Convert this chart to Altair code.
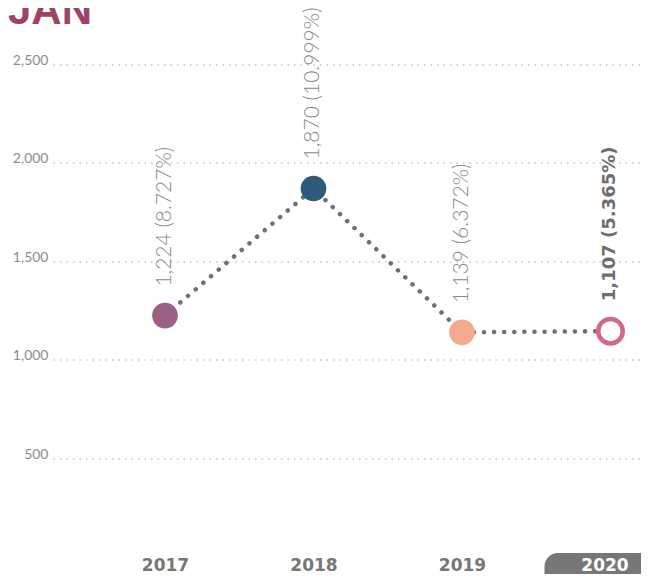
import altair as alt
import pandas as pd

# ---- data ----
years = [2017, 2018, 2019, 2020]
values = [1224, 1870, 1139, 1107]
shares = ["8.727%", "10.999%", "6.372%", "5.365%"]
# vertical position at which each marker is drawn in the reference
plot_values = [1224, 1870, 1139, 1145]
point_colors = ["#9a6184", "#2e5a7b", "#f5aa90", "#d26a85"]
y_ticks = [500, 1000, 1500, 2000, 2500]
title_text = "JAN"

labels = [f"{v:,} ({s})" for v, s in zip(values, shares)]
df = pd.DataFrame({
    "year": years,
    "value": values,
    "pos": plot_values,
    "label": labels,
    "color": point_colors,
    "current": [False, False, False, True],
})

PLOT_W = 588
PLOT_H = 492

x_enc = alt.X(
    "year:Q",
    scale=alt.Scale(domain=[2016.2458, 2020.2054], nice=False, zero=False, padding=0),
    axis=alt.Axis(
        title=None, values=years, format="d", domain=False, ticks=False,
        tickSize=0, grid=False, labelFlush=False, labelOverlap=False,
        labelAngle=0, labelFont="DejaVu Sans", labelFontWeight="bold",
        labelFontSize=17, labelBaseline="alphabetic", labelPadding=14,
        labelColor=alt.ExprRef("datum.value == 2020 ? '#ffffff' : '#777777'"),
        labelOffset=alt.ExprRef("datum.value == 2020 ? -6 : 0"),
        zindex=1,
    ),
)
y_enc = alt.Y(
    "pos:Q",
    scale=alt.Scale(domain=[0, 2500], nice=False, zero=True, padding=0),
    axis=alt.Axis(
        title=None, values=y_ticks, format=",d", domain=False, ticks=False,
        tickSize=0, labelPadding=5, labelFont="Lato", labelFontSize=14,
        labelColor="#8c8c8c", labelBaseline="alphabetic",
        gridColor="#c4c4c4", gridDash=[1.5, 5], gridWidth=1.5, zindex=0,
    ),
)

base = alt.Chart(df)

pill = base.transform_filter("datum.current").mark_bar(
    width=132, cornerRadius=13.5, color="#777777", clip=False
).encode(x=x_enc, y=alt.value(PLOT_H - 3.5), y2=alt.value(PLOT_H + 30))

line = base.mark_line(
    color="#707070", strokeWidth=4.5, strokeDash=[0.1, 10], strokeCap="round"
).encode(x=x_enc, y=y_enc)

dots = base.transform_filter("!datum.current").mark_circle(
    size=660, opacity=1
).encode(x=x_enc, y=y_enc, color=alt.Color("color:N", scale=None))

ring = base.transform_filter("datum.current").mark_point(
    shape="circle", size=600, fill="white", fillOpacity=1, strokeWidth=4.5, opacity=1
).encode(x=x_enc, y=y_enc, stroke=alt.Stroke("color:N", scale=None))

text_light = base.transform_filter("!datum.current").mark_text(
    angle=270, align="left", baseline="middle", dx=29,
    font="Lato", fontWeight=300, fontSize=21, color="#8a8a8a",
).encode(x=x_enc, y=y_enc, text="label:N")

text_bold = base.transform_filter("datum.current").mark_text(
    angle=270, align="left", baseline="middle", dx=30,
    font="DejaVu Sans", fontWeight="bold", fontSize=18, color="#6e6e6e",
).encode(x=x_enc, y=y_enc, text="label:N")

title = alt.Chart(pd.DataFrame({"t": [title_text]})).mark_text(
    align="left", baseline="alphabetic", font="Liberation Sans",
    fontWeight="bold", fontSize=42, color="#9c4366",
).encode(text="t:N", x=alt.value(-45), y=alt.value(-40.5))

chart = alt.layer(pill, line, dots, ring, text_light, text_bold, title).properties(
    width=PLOT_W,
    height=PLOT_H,
    autosize=alt.AutoSizeParams(type="none"),
    padding={"left": 45, "top": 56.5, "right": 0, "bottom": 17.5},
).configure_view(strokeWidth=0)

chart.save("out.html", embed_options={"renderer": "svg", "actions": False})
